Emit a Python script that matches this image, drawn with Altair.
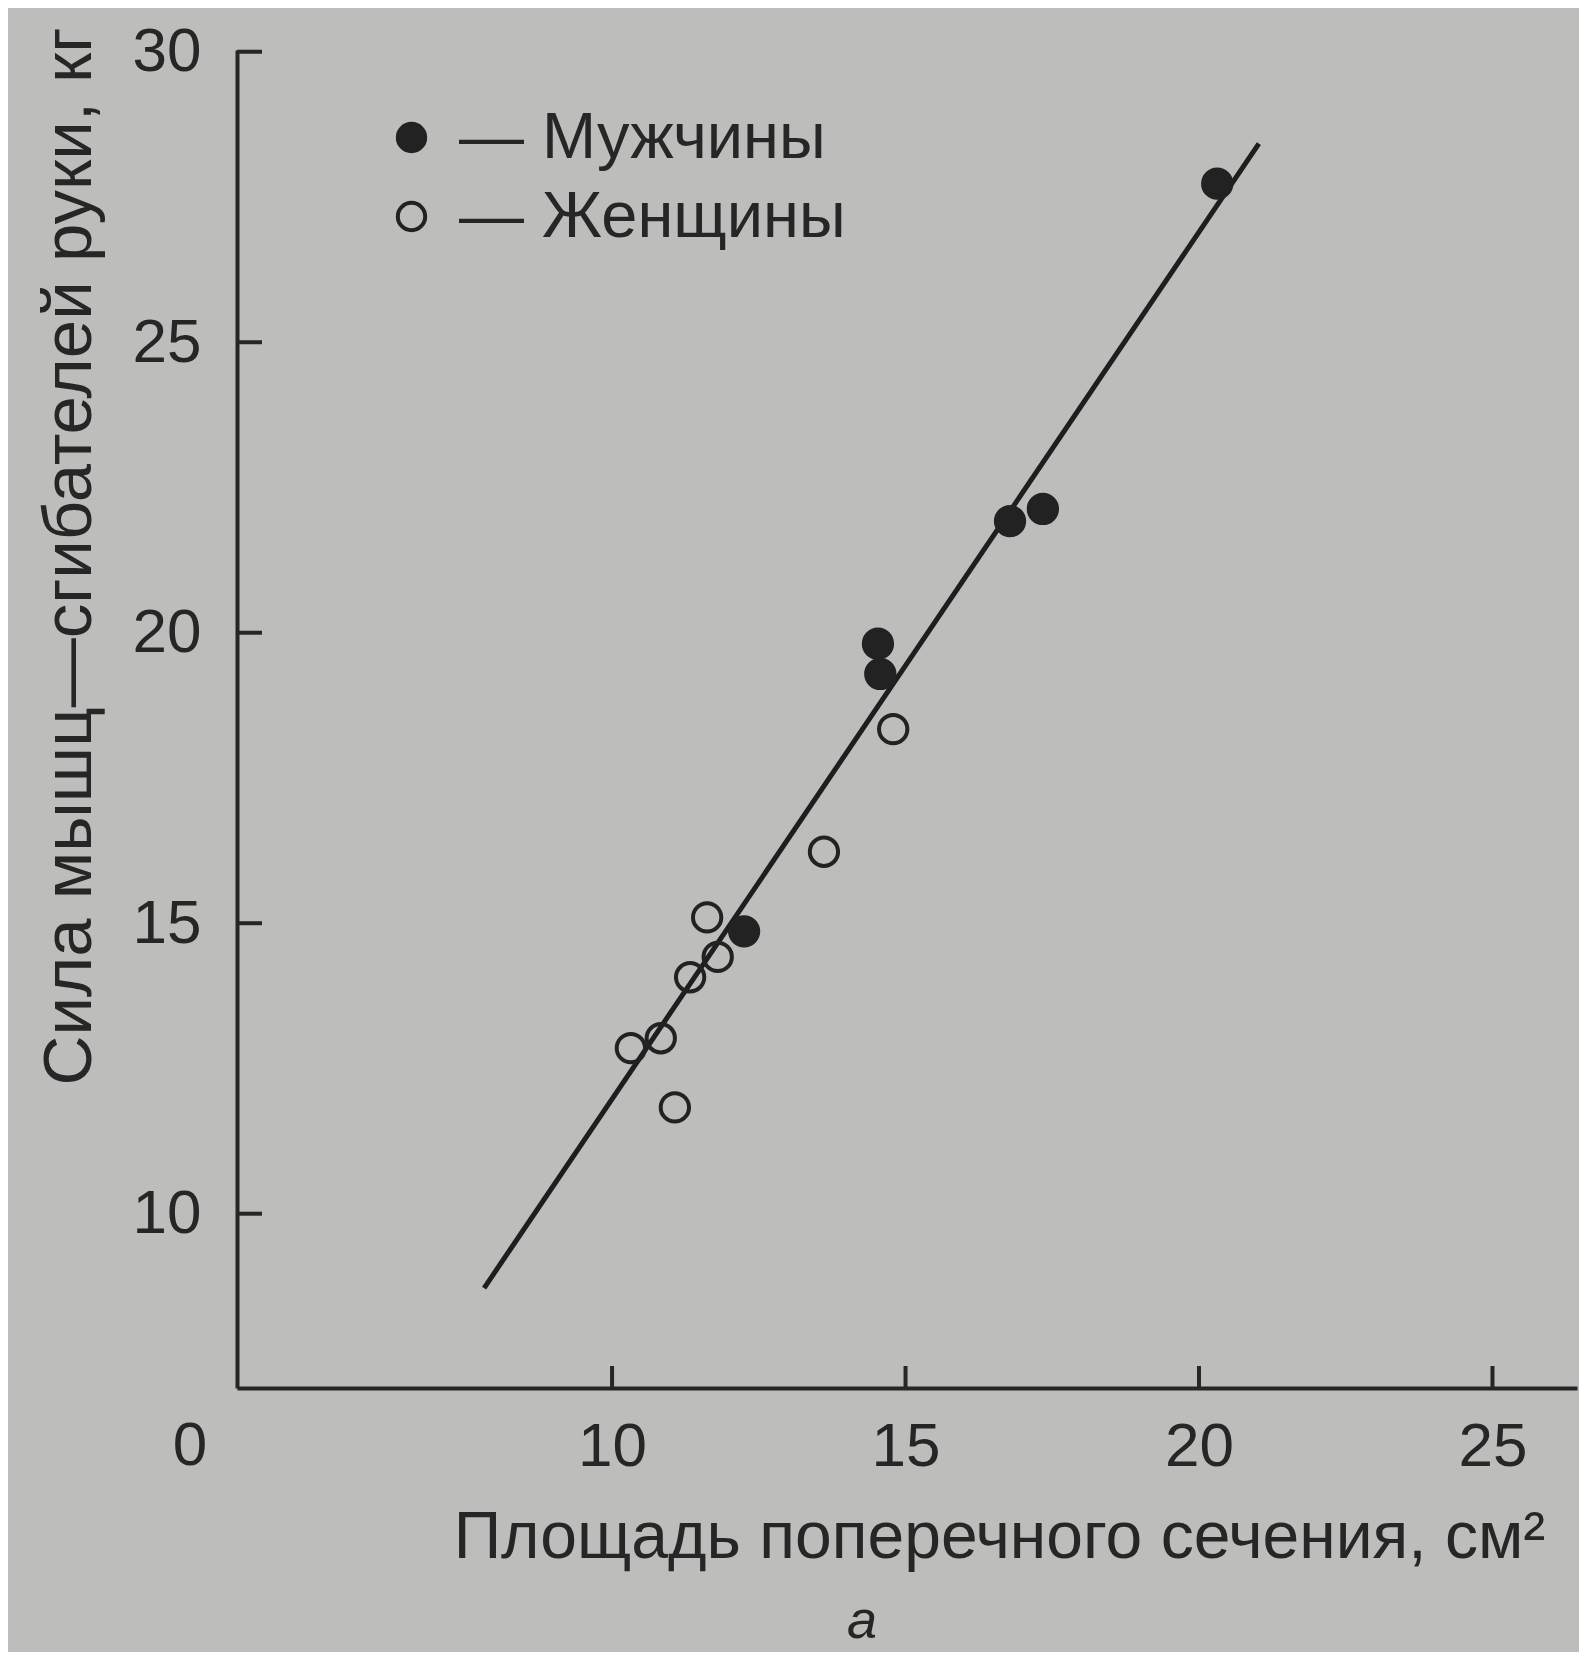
import altair as alt
import pandas as pd

# ---- data ----
men_x = [20.31, 16.78, 17.34, 14.53, 14.57, 12.25]
men_y = [27.73, 21.92, 22.13, 19.81, 19.29, 14.86]
women_x = [14.79, 13.61, 11.62, 11.80, 11.33, 10.32, 10.83, 11.07]
women_y = [18.34, 16.23, 15.10, 14.42, 14.07, 12.85, 13.02, 11.83]
line_x = [7.82, 21.02]
line_y = [8.72, 28.42]
x_ticks = [10, 15, 20, 25]
y_ticks = [10, 15, 20, 25, 30]
groups = ["Мужчины", "Женщины"]
x_domain = [3.61, 26.44]
y_domain = [7.0, 30.03]
x_title = "Площадь поперечного сечения, см²"
y_title = "Сила мышц—сгибателей руки, кг"
origin_label = "0"
panel_label = "а"

INK = "#262626"
BG = "#bdbdbb"
FONT = "Liberation Sans"
W, H = 1340, 1338
TICK_PX = 22  # inward tick length in pixels

px_per_x = W / (x_domain[1] - x_domain[0])
px_per_y = H / (y_domain[1] - y_domain[0])

pts = pd.DataFrame(
    {"x": men_x + women_x, "y": men_y + women_y,
     "g": [groups[0]] * len(men_x) + [groups[1]] * len(women_x)}
)
line_df = pd.DataFrame({"x": line_x, "y": line_y})
xt = pd.DataFrame({"x": x_ticks})
xt["y"] = y_domain[0]
xt["y2"] = y_domain[0] + TICK_PX / px_per_y
yt = pd.DataFrame({"y": y_ticks})
yt["x"] = x_domain[0]
yt["x2"] = x_domain[0] + (TICK_PX + 3) / px_per_x
corner = pd.DataFrame({"x": [x_domain[0]], "y": [y_domain[0]], "t": [origin_label]})
panel = pd.DataFrame({"x": [14.26], "y": [y_domain[0]], "t": [panel_label]})

xs = alt.Scale(domain=x_domain, nice=False, zero=False)
ys = alt.Scale(domain=y_domain, nice=False, zero=False)

x_axis = alt.Axis(
    values=x_ticks, format="d", ticks=False, grid=False, domain=True,
    domainColor=INK, domainWidth=4,
    labelFontSize=62, labelColor=INK, labelFont=FONT,
    labelPadding=58, labelBaseline="middle",
    title=x_title, titleFontSize=66, titleFont=FONT, titleColor=INK,
    titleFontWeight="normal", titleX=762, titleY=149,
    titleAlign="center", titleBaseline="middle",
)
y_axis = alt.Axis(
    values=y_ticks, format="d", ticks=False, grid=False, domain=True,
    domainColor=INK, domainWidth=4,
    labelFontSize=62, labelColor=INK, labelFont=FONT, labelPadding=36,
    title=y_title, titleFontSize=69, titleFont=FONT, titleColor=INK,
    titleFontWeight="normal", titleX=-168, titleY=506, titleAngle=270,
    titleAlign="center", titleBaseline="middle",
)

reg = alt.Chart(line_df).mark_line(color="#1e1e1e", strokeWidth=5).encode(
    x=alt.X("x:Q", scale=xs, axis=x_axis),
    y=alt.Y("y:Q", scale=ys, axis=y_axis),
)

points = alt.Chart(pts).mark_point(
    shape="circle", size=800, strokeWidth=4, stroke="#222222",
    opacity=1, fillOpacity=1,
).encode(
    x=alt.X("x:Q", scale=xs),
    y=alt.Y("y:Q", scale=ys),
    fill=alt.Fill(
        "g:N",
        scale=alt.Scale(domain=groups, range=["#222222", "transparent"]),
        legend=alt.Legend(
            orient="none", legendX=142, legendY=55, title=None,
            labelFontSize=65, labelFont=FONT, labelColor=INK, labelLimit=0,
            labelExpr="'— ' + datum.label", labelOffset=15,
            symbolType="circle", symbolSize=750, symbolStrokeWidth=4,
            symbolStrokeColor="#222222", rowPadding=13, padding=0,
        ),
    ),
)

xticks = alt.Chart(xt).mark_rule(color=INK, strokeWidth=4).encode(
    x=alt.X("x:Q", scale=xs), y=alt.Y("y:Q", scale=ys), y2="y2:Q"
)
yticks = alt.Chart(yt).mark_rule(color=INK, strokeWidth=4).encode(
    x=alt.X("x:Q", scale=xs), x2="x2:Q", y=alt.Y("y:Q", scale=ys)
)

zero = alt.Chart(corner).mark_text(
    fontSize=62, font=FONT, color=INK, dx=-47, dy=58,
    align="center", baseline="middle",
).encode(x=alt.X("x:Q", scale=xs), y=alt.Y("y:Q", scale=ys), text="t:N")

alabel = alt.Chart(panel).mark_text(
    fontSize=54, font=FONT, color=INK, fontStyle="italic", dy=250,
    align="center", baseline="alphabetic",
).encode(x=alt.X("x:Q", scale=xs), y=alt.Y("y:Q", scale=ys), text="t:N")

chart = alt.layer(reg, points, xticks, yticks, zero, alabel).properties(
    width=W, height=H,
    padding={"left": 229, "top": 42, "right": 2, "bottom": 264},
    autosize=alt.AutoSizeParams(type="none"),
    background=BG,
).configure_view(stroke=None)

chart.save("out.html", embed_options={"renderer": "svg", "actions": False})
